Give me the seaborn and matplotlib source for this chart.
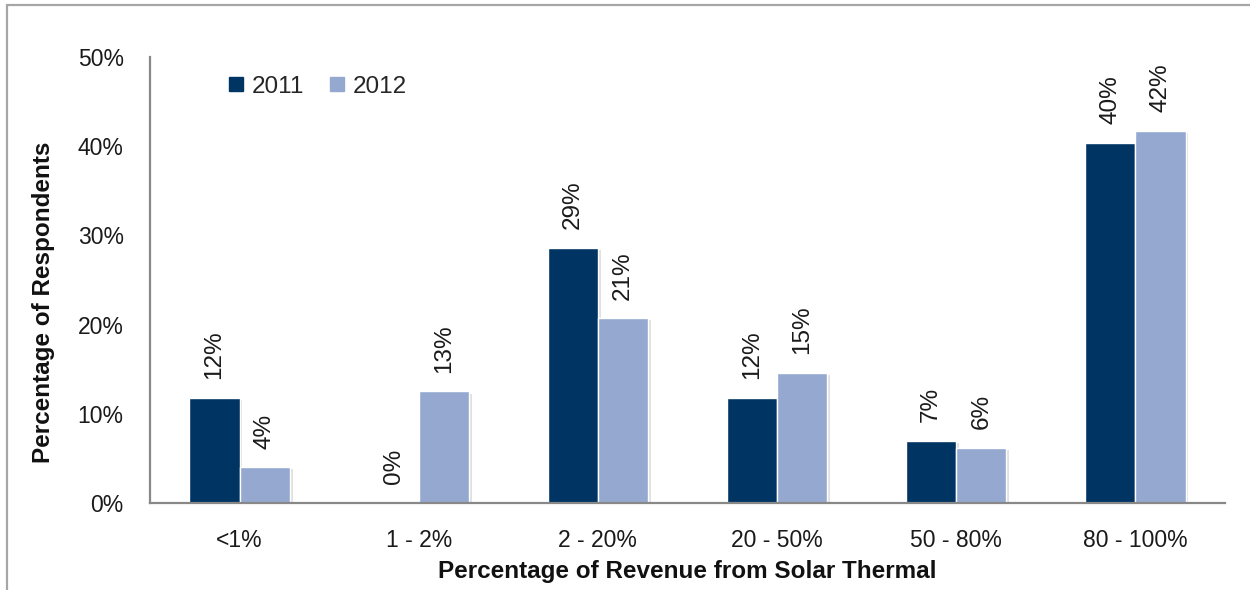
import math
import matplotlib
matplotlib.use("Agg")
import matplotlib.pyplot as plt
import matplotlib.patheffects as pe
from matplotlib.lines import Line2D
from matplotlib.ticker import FixedLocator, FuncFormatter
import numpy as np
import pandas as pd
import seaborn as sns

# Survey data: share of respondents by revenue share from solar thermal
categories = ["<1%", "1 - 2%", "2 - 20%", "20 - 50%", "50 - 80%", "80 - 100%"]
years = ["2011", "2012"]
values_2011 = [11.8, 0.0, 28.6, 11.8, 7.0, 40.4]
values_2012 = [4.0, 12.5, 20.7, 14.6, 6.2, 41.7]
y_ticks = [0, 10, 20, 30, 40, 50]

colors = {"2011": "#003463", "2012": "#95A9D0"}

df = pd.DataFrame({
    "category": categories * 2,
    "year": [years[0]] * len(categories) + [years[1]] * len(categories),
    "value": values_2011 + values_2012,
})

sns.set_theme(style="white")
plt.rcParams["font.family"] = ["Liberation Sans", "DejaVu Sans"]

fig = plt.figure(figsize=(12.5, 5.9), dpi=100)
ax = fig.add_axes([0.12, 0.1475, 0.86, 0.756])

sns.barplot(
    data=df, x="category", y="value", hue="year", order=categories,
    hue_order=years, palette=colors, width=0.56, gap=0, ax=ax,
    edgecolor="white", linewidth=1.0, saturation=1, errorbar=None,
)

shadow = [pe.SimplePatchShadow(offset=(2, -1.5), shadow_rgbFace="#000000", alpha=0.12), pe.Normal()]
for patch in ax.patches:
    patch.set_path_effects(shadow)

# Value labels above each bar, rotated
def pct_label(v):
    return f"{int(math.floor(v + 0.5))}%"

for container, yr in zip(ax.containers, years):
    for bar, v in zip(container, df.loc[df["year"] == yr, "value"]):
        cx = bar.get_x() + bar.get_width() / 2
        ax.text(cx, v + 2.1, pct_label(v), rotation=90, ha="center", va="bottom",
                fontsize=17.5, color="#1a1a1a")

ax.set_ylim(0, 50)
ax.set_xlim(-0.5, len(categories) - 0.5)

ax.yaxis.set_major_locator(FixedLocator(y_ticks))
ax.yaxis.set_major_formatter(FuncFormatter(lambda v, _: f"{int(v)}%"))

# Ticks on category boundaries, labels at category centers
ax.xaxis.set_major_locator(FixedLocator(np.arange(-0.5, len(categories), 1.0)))
ax.xaxis.set_major_formatter(FuncFormatter(lambda v, _: ""))
ax.set_xticks(np.arange(len(categories)), labels=categories, minor=True)
ax.tick_params(axis="x", which="minor", length=0, pad=19, labelsize=16.5, labelcolor="#1a1a1a")
ax.tick_params(axis="x", which="major", length=6, width=1.5, color="#888888", direction="out")
ax.tick_params(axis="y", which="major", length=6, width=1.5, color="#888888", direction="out",
               pad=13, labelsize=16.5, labelcolor="#1a1a1a")

for side in ["top", "right"]:
    ax.spines[side].set_visible(False)
for side in ["left", "bottom"]:
    ax.spines[side].set_color("#888888")
    ax.spines[side].set_linewidth(1.6)

title_font = {"family": ["Liberation Sans Narrow", "Liberation Sans", "DejaVu Sans"],
              "weight": "bold", "size": 17.5, "color": "#111111"}
ax.set_xlabel("Percentage of Revenue from Solar Thermal", fontdict=title_font)
ax.set_ylabel("Percentage of Respondents", fontdict=title_font)
ax.xaxis.set_label_coords(0.5, -0.127)
ax.yaxis.set_label_coords(-0.0884, 0.45)

leg = ax.legend(
    handles=[Line2D([], [], marker="s", linestyle="", markersize=10, color=colors[y]) for y in years],
    labels=years, loc="upper left", bbox_to_anchor=(0.0494, 1.007), ncol=2, frameon=False,
    fontsize=17.5, handletextpad=0.2, columnspacing=0.9, handlelength=0.9,
)

# Outer frame around the chart area
frame_color = "#a6a6a6"
fig.add_artist(Line2D([7 / 1250, 1.0], [1 - 5 / 590, 1 - 5 / 590], transform=fig.transFigure,
                      color=frame_color, linewidth=1.6))
fig.add_artist(Line2D([7 / 1250, 7 / 1250], [0.0, 1 - 5 / 590], transform=fig.transFigure,
                      color=frame_color, linewidth=1.6))

fig.savefig("out.png", dpi=100, facecolor="white")
